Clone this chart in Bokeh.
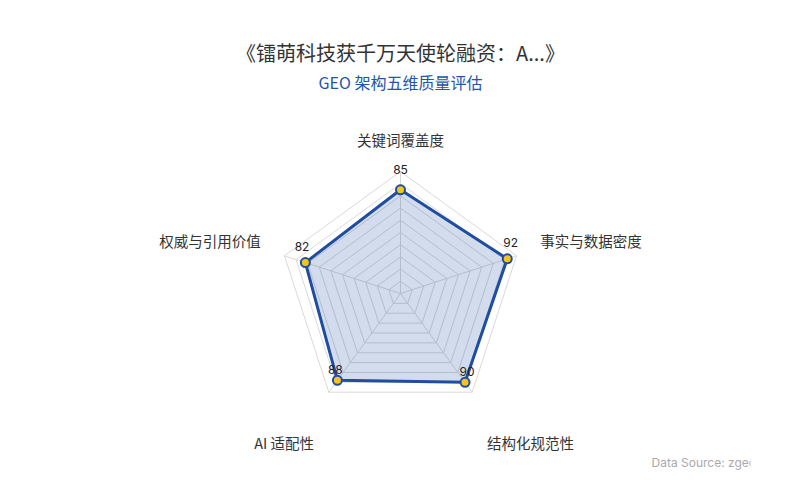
import math
from bokeh.plotting import figure
from bokeh.models import Range1d
from bokeh.core.properties import value
from bokeh.embed import file_html
from bokeh.resources import INLINE

# ---- data ----
title_text = "《镭萌科技获千万天使轮融资：A...》"
subtitle_text = "GEO 架构五维质量评估"
indicators = ["关键词覆盖度", "事实与数据密度", "结构化规范性", "AI 适配性", "权威与引用价值"]
scores = [85, 92, 90, 88, 82]
max_value = 100
split_number = 10
source_text = "Data Source: zgeo"

# ---- layout ----
W, H = 784, 484
OFF = 0                     # page offset of figure origin as photographed
CX, CY = 400, 293          # radar centre in page pixels
RIGHT_CLIP = 750
R = 122                     # radius of max_value in px
NAME_R = 147
CJK = value("Noto Sans CJK SC")
LATIN = value("Inter")
BLUE = "#1f4ea0"

p = figure(width=W, height=H, output_backend="svg", toolbar_location=None,
           x_range=Range1d(OFF - CX, RIGHT_CLIP - CX),
           y_range=Range1d(CY - (OFF + H), CY - OFF),
           x_axis_location=None, y_axis_location=None,
           min_border_left=0, min_border_right=W - (RIGHT_CLIP - OFF),
           min_border_top=0, min_border_bottom=0)
p.grid.visible = False
p.outline_line_color = None
p.background_fill_color = "white"
p.border_fill_color = "white"

n = len(indicators)
angles = [math.radians(90 - 360 / n * i) for i in range(n)]

# grid rings
ring_xs, ring_ys = [], []
for k in range(1, split_number + 1):
    r = R * k / split_number
    ring_xs.append([r * math.cos(a) for a in angles] + [r * math.cos(angles[0])])
    ring_ys.append([r * math.sin(a) for a in angles] + [r * math.sin(angles[0])])
p.multi_line(ring_xs, ring_ys, line_color="#d9d9d9", line_width=1)

# spokes
p.segment(x0=[0] * n, y0=[0] * n,
          x1=[R * math.cos(a) for a in angles], y1=[R * math.sin(a) for a in angles],
          line_color="#d9d9d9", line_width=1)

# series polygon
px = [s / max_value * R * math.cos(a) for s, a in zip(scores, angles)]
py = [s / max_value * R * math.sin(a) for s, a in zip(scores, angles)]
p.patch(px + [px[0]], py + [py[0]], fill_color=BLUE, fill_alpha=0.2,
        line_color=BLUE, line_width=3, line_join="round")
p.scatter(px, py, size=9, fill_color="#f5c518", line_color=BLUE, line_width=2)

# value labels
p.text(x=[x + 3.5 * math.cos(a) for x, a in zip(px, angles)],
       y=[y + 15 + 5 * math.sin(a) for y, a in zip(py, angles)],
       text=[str(s) for s in scores], text_align="center", text_baseline="middle",
       text_font_size="12px", text_color="#222222", text_font=LATIN)

# indicator names
for name, a in zip(indicators, angles):
    c, s = math.cos(a), math.sin(a)
    align = "left" if c > 0.1 else ("right" if c < -0.1 else "center")
    if s > 0:
        baseline, nudge = "bottom", -3
    else:
        baseline, nudge = "top", -20
    p.text(x=[NAME_R * c], y=[NAME_R * s + nudge], text=[name],
           text_align=align, text_baseline=baseline,
           text_font_size="14.5px", text_color="#333333", text_font=CJK)

# titles
p.text(x=[0], y=[CY - 52], text=[title_text], text_align="center", text_baseline="middle",
       text_font_size="20px", text_color="#333333", text_font=CJK)
p.text(x=[0], y=[CY - 81], text=[subtitle_text], text_align="center", text_baseline="middle",
       text_font_size="16px", text_color="#2455a4", text_font=CJK)

# source
p.text(x=[651 - CX], y=[CY - 462], text=[source_text], text_align="left", text_baseline="middle",
       text_font_size="12px", text_color="#aaaaaa", text_font=LATIN)

open("out.html", "w").write(file_html(p, INLINE))
